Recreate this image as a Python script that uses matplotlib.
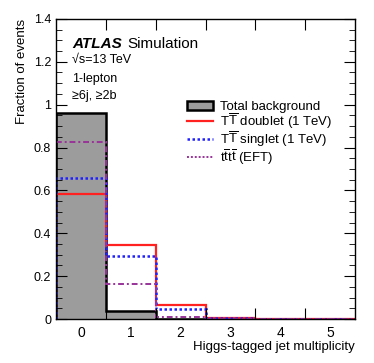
import numpy as np
import matplotlib
matplotlib.use('Agg')
from matplotlib import pyplot as plt
from matplotlib.patches import Patch
from matplotlib.lines import Line2D
from matplotlib.ticker import MultipleLocator, FixedLocator, NullFormatter

plt.rcParams['font.family'] = ['Liberation Sans', 'DejaVu Sans']
plt.rcParams['mathtext.fontset'] = 'custom'
plt.rcParams['mathtext.rm'] = 'Liberation Sans'
plt.rcParams['mathtext.it'] = 'Liberation Sans:italic'

# Higgs-tagged jet multiplicity bins
n_higgs = [0, 1, 2, 3, 4, 5]
background = [0.963, 0.037, 0.002, 0.0, 0.0, 0.0]
tt_doublet = [0.584, 0.346, 0.065, 0.005, 0.0, 0.0]
tt_singlet = [0.659, 0.296, 0.047, 0.003, 0.0, 0.0]
tttt_eft = [0.824, 0.164, 0.011, 0.001, 0.0, 0.0]

edges = np.arange(len(n_higgs) + 1) - 0.5

fig = plt.figure(figsize=(3.74, 3.63), dpi=100)
ax = fig.add_axes([0.150, 0.121, 0.799, 0.827])

ax.stairs(background, edges, fill=True, color='#9c9c9c')
ax.stairs(background, edges, color='black', lw=1.8)
ax.stairs(tt_doublet, edges, color='#ff2020', lw=1.6)
ax.stairs(tt_singlet, edges, color='#2020ff', lw=1.8, linestyle=(0, (1, 1)))
ax.stairs(tttt_eft, edges, color='#993399', lw=1.4, linestyle=(0, (3, 1.5, 1, 1.5)))

ax.set_xlim(-0.5, 5.5)
ax.set_ylim(0, 1.4)

# ticks at bin edges, labels at bin centres
ax.xaxis.set_major_locator(FixedLocator(edges[1:-1]))
ax.xaxis.set_major_formatter(NullFormatter())
ax.set_xticks(n_higgs, [str(v) for v in n_higgs], minor=True)
ax.tick_params(axis='x', which='minor', length=0, pad=5)
ax.tick_params(axis='x', which='major', direction='in', length=8, top=True)

ax.set_yticks([0, 0.2, 0.4, 0.6, 0.8, 1.0, 1.2, 1.4], ['0', '0.2', '0.4', '0.6', '0.8', '1', '1.2', '1.4'])
ax.yaxis.set_minor_locator(MultipleLocator(0.05))
ax.tick_params(axis='y', which='major', direction='in', length=8, right=True)
ax.tick_params(axis='y', which='minor', direction='in', length=4, right=True)
ax.tick_params(labelsize=9)

for s in ax.spines.values():
    s.set_linewidth(1.0)

ax.set_ylabel('Fraction of events', fontsize=9.5, loc='top')
ax.set_xlabel('Higgs-tagged jet multiplicity', fontsize=9.5, loc='right', labelpad=1)

atlas = ax.text(0.054, 0.903, 'ATLAS', transform=ax.transAxes, fontsize=11, fontweight='bold', style='italic')
ax.annotate('Simulation', xy=(1, 0), xycoords=atlas, xytext=(4, 0), textcoords='offset points',
            fontsize=11, va='bottom')
ax.text(0.054, 0.853, '\u221as=13 TeV', transform=ax.transAxes, fontsize=9)
ax.text(0.054, 0.790, '1-lepton', transform=ax.transAxes, fontsize=9)
ax.text(0.054, 0.733, '\u22656j, \u22652b', transform=ax.transAxes, fontsize=9)

handles = [
    Patch(facecolor='#9c9c9c', edgecolor='black', lw=1.8),
    Line2D([], [], color='#ff2020', lw=1.6),
    Line2D([], [], color='#2020ff', lw=1.8, linestyle=(0, (1, 1))),
    Line2D([], [], color='#993399', lw=1.4, linestyle=(0, (1, 1))),
]
labels = ['Total background',
          r'T$\overline{\rm T}$ doublet (1 TeV)',
          r'T$\overline{\rm T}$ singlet (1 TeV)',
          r't$\overline{\rm t}$t$\overline{\rm t}$ (EFT)']
ax.legend(handles, labels, loc='upper left', bbox_to_anchor=(0.42, 0.745), frameon=False,
          fontsize=9.5, handlelength=2.0, handletextpad=0.5, labelspacing=-0.1, borderaxespad=0)

fig.savefig('out.png', dpi=100)
